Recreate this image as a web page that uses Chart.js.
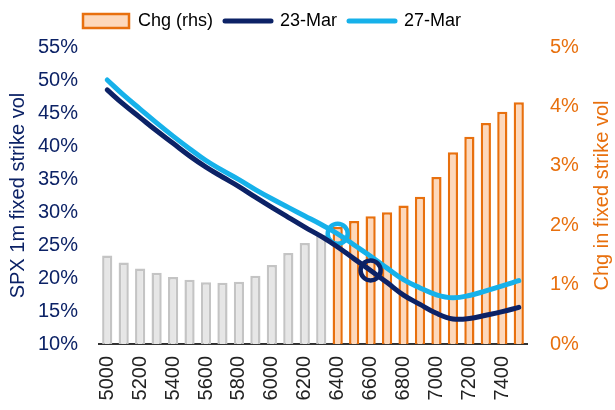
<!DOCTYPE html>
<html>
<head>
<meta charset="utf-8">
<title>SPX 1m fixed strike vol</title>
<script src="https://cdn.jsdelivr.net/npm/chart.js@4.4.1/dist/chart.umd.min.js"></script>
<style>
  html, body { margin: 0; padding: 0; background: #fff; }
  #wrap { width: 615px; height: 410px; }
</style>
</head>
<body>
<div id="wrap"><canvas id="volChart" width="615" height="410"></canvas></div>
<script>
// strikes on the x axis, every 100 pts
const strikes = [5000, 5100, 5200, 5300, 5400, 5500, 5600, 5700, 5800, 5900, 6000, 6100, 6200,
                 6300, 6400, 6500, 6600, 6700, 6800, 6900, 7000, 7100, 7200, 7300, 7400, 7500];
// only these get a label
const labelledStrikes = [5000, 5200, 5400, 5600, 5800, 6000, 6200, 6400, 6600, 6800, 7000, 7200, 7400];

// fixed strike vol (%), lhs
const vol23Mar = [48.5, 46.3, 44.3, 42.3, 40.4, 38.5, 36.8, 35.3, 33.85, 32.25, 30.7, 29.2, 27.7,
                  26.3, 24.7, 22.9, 21.15, 19.3, 17.4, 16.0, 14.65, 13.8, 13.85, 14.35, 14.9, 15.55];
const vol27Mar = [50.0, 47.7, 45.6, 43.5, 41.5, 39.6, 37.8, 36.3, 34.9, 33.4, 32.0, 30.7, 29.4,
                  28.1, 26.7, 25.0, 23.3, 21.5, 19.75, 18.5, 17.45, 17.0, 17.35, 18.05, 18.8, 19.6];
// change in fixed strike vol (%), rhs
const chgRhs = [1.49, 1.37, 1.27, 1.20, 1.13, 1.08, 1.04, 1.03, 1.05, 1.15, 1.33, 1.53, 1.70,
                1.84, 1.97, 2.07, 2.15, 2.22, 2.33, 2.48, 2.81, 3.23, 3.49, 3.72, 3.91, 4.07];

const rhsFrom = 6400;      // bars from here on are orange
const spot23Mar = 6600;    // circled point on 23-Mar
const spot27Mar = 6400;    // circled point on 27-Mar

const FONT = "'Liberation Sans', Arial, sans-serif";
const navy = '#0c2266';
const sky = '#16b1ea';
const orange = '#e8700e';
const peach = '#fdd8bb';
const greyFill = '#e6e6e6';
const greyLine = '#c4c4c4';

Chart.defaults.font.family = FONT;
Chart.defaults.font.size = 20;
Chart.defaults.color = '#222';

function circleAt(spot) {
    return strikes.map(s => s === spot ? 10 : 0);
}

// push plot area down a little below the legend
const legendGap = {
    id: 'legendGap',
    beforeInit(chart) {
        const fit = chart.legend.fit;
        chart.legend.fit = function () {
            fit.bind(chart.legend)();
            this.height += 7;
        };
    },
    afterLayout(chart) {
        chart.legend.left = 71;
    }
};

// rhs title reads bottom to top, chart.js would draw it the other way
const rhsTitle = {
    id: 'rhsTitle',
    afterDraw(chart) {
        const { ctx, chartArea } = chart;
        ctx.save();
        ctx.translate(chart.width - 13, (chartArea.top + chartArea.bottom) / 2);
        ctx.rotate(-Math.PI / 2);
        ctx.font = '20px ' + FONT;
        ctx.fillStyle = orange;
        ctx.textAlign = 'center';
        ctx.textBaseline = 'middle';
        ctx.fillText('Chg in fixed strike vol', 0, 0);
        ctx.restore();
    }
};

const ctx = document.getElementById('volChart').getContext('2d');
new Chart(ctx, {
    type: 'bar',
    data: {
        labels: strikes,
        datasets: [
            {
                type: 'line',
                label: '23-Mar',
                data: vol23Mar,
                yAxisID: 'yL',
                borderColor: navy,
                borderWidth: 5,
                borderCapStyle: 'round',
                tension: 0.4,
                pointRadius: circleAt(spot23Mar),
                pointBorderWidth: 4.5,
                pointBorderColor: navy,
                pointBackgroundColor: 'rgba(0,0,0,0)',
                order: 0
            },
            {
                type: 'line',
                label: '27-Mar',
                data: vol27Mar,
                yAxisID: 'yL',
                borderColor: sky,
                borderWidth: 5,
                borderCapStyle: 'round',
                tension: 0.4,
                pointRadius: circleAt(spot27Mar),
                pointBorderWidth: 4.5,
                pointBorderColor: sky,
                pointBackgroundColor: 'rgba(0,0,0,0)',
                order: 0
            },
            {
                label: 'Chg (rhs)',
                data: chgRhs,
                yAxisID: 'yR',
                backgroundColor: strikes.map(s => s >= rhsFrom ? peach : greyFill),
                borderColor: strikes.map(s => s >= rhsFrom ? orange : greyLine),
                borderWidth: 2.5,
                barPercentage: 0.62,
                categoryPercentage: 1,
                order: 1
            }
        ]
    },
    options: {
        responsive: false,
        animation: false,
        layout: { padding: 0 },
        plugins: {
            tooltip: { enabled: false },
            legend: {
                align: 'start',
                labels: {
                    usePointStyle: true,
                    pointStyleWidth: 46,
                    boxHeight: 14,
                    padding: 12,
                    color: '#222',
                    font: { size: 18 },
                    generateLabels() {
                        return [
                            { text: 'Chg (rhs)', pointStyle: 'rect', fillStyle: peach, strokeStyle: orange, lineWidth: 2.5, hidden: false, datasetIndex: 2 },
                            { text: '23-Mar', pointStyle: 'line', strokeStyle: navy, lineWidth: 5, lineCap: 'round', hidden: false, datasetIndex: 0 },
                            { text: '27-Mar', pointStyle: 'line', strokeStyle: sky, lineWidth: 5, lineCap: 'round', hidden: false, datasetIndex: 1 }
                        ];
                    }
                }
            }
        },
        scales: {
            x: {
                grid: { display: false, drawTicks: false },
                border: { display: true, color: '#333', width: 2 },
                ticks: {
                    autoSkip: false,
                    minRotation: 90,
                    maxRotation: 90,
                    padding: 12,
                    color: '#222',
                    callback(value, index) {
                        const s = strikes[index];
                        return labelledStrikes.includes(s) ? String(s) : '';
                    }
                },
                afterFit(scale) { scale.height = 66; }
            },
            yL: {
                position: 'left',
                min: 10,
                max: 55,
                grid: { display: false, drawTicks: false },
                border: { display: false },
                ticks: { stepSize: 5, color: navy, padding: 21, callback: v => v + '%' },
                title: { display: true, text: 'SPX 1m fixed strike vol', color: navy, padding: { top: 6, bottom: 0 } },
                afterFit(scale) { scale.width = 99; }
            },
            yR: {
                position: 'right',
                min: 0,
                max: 5,
                grid: { display: false, drawTicks: false },
                border: { display: false },
                ticks: { stepSize: 1, color: orange, padding: 23, callback: v => v + '%' },
                afterFit(scale) { scale.width = 88; }
            }
        }
    },
    plugins: [legendGap, rhsTitle]
});
</script>
</body>
</html>
